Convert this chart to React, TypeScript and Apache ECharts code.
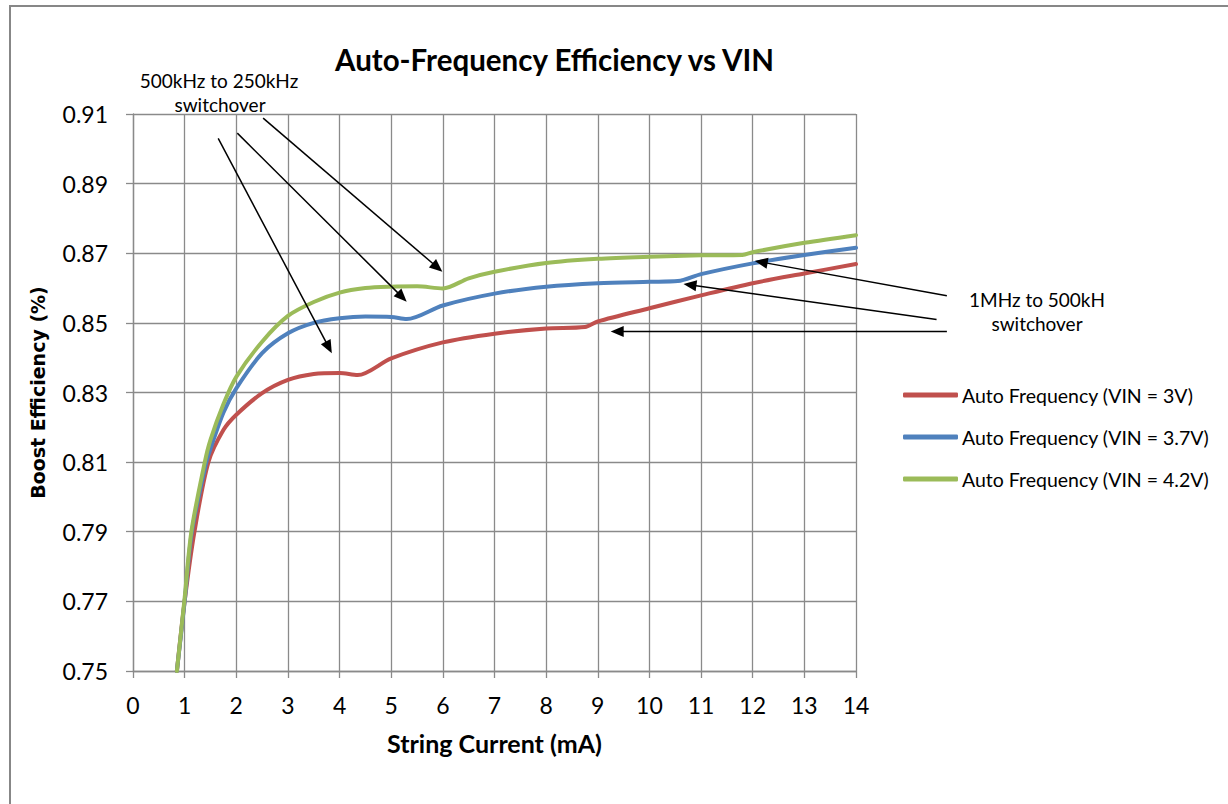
import React, { useEffect, useRef } from "react";
import * as echarts from "echarts";

const TITLE = "Auto-Frequency Efficiency vs VIN";
const X_NAME = "String Current (mA)";
const Y_NAME = "Boost Efficiency (%)";
const SERIES_NAMES = [
  "Auto Frequency (VIN = 3V)",
  "Auto Frequency (VIN = 3.7V)",
  "Auto Frequency (VIN = 4.2V)",
];
const COLORS = ["#C0504D", "#4F81BD", "#9BBB59"];

// [string current (mA), efficiency]
const vin3V: [number, number][] = [
  [0.85, 0.75], [1.0, 0.770], [1.19, 0.790], [1.46, 0.810],
  [1.75, 0.8192], [2.0, 0.8236], [2.5, 0.8298], [3.0, 0.8336], [3.5, 0.8353],
  [4.0, 0.8356], [4.35, 0.835], [5.0, 0.8398], [6.0, 0.8444], [7.0, 0.8469],
  [8.0, 0.8484], [8.75, 0.8488], [9.0, 0.8504], [10.0, 0.8542], [11.0, 0.8579],
  [12.0, 0.8614], [13.0, 0.8642], [14.0, 0.8669],
];
const vin37V: [number, number][] = [
  [0.85, 0.75], [1.0, 0.770], [1.14, 0.790], [1.42, 0.810], [1.5, 0.8138],
  [1.75, 0.8242], [2.0, 0.8312], [2.5, 0.8413], [3.0, 0.847], [3.5, 0.85],
  [4.0, 0.8513], [4.5, 0.8518], [5.0, 0.8517], [5.3, 0.8511], [6.0, 0.855],
  [7.0, 0.8584], [8.0, 0.8604], [9.0, 0.8614], [10.0, 0.8618], [10.55, 0.862],
  [11.0, 0.864], [12.0, 0.8671], [13.0, 0.8695], [14.0, 0.8716],
];
const vin42V: [number, number][] = [
  [0.85, 0.75], [1.0, 0.771], [1.13, 0.790], [1.39, 0.810], [1.5, 0.8164],
  [1.75, 0.8266], [2.0, 0.8345], [2.5, 0.8446], [3.0, 0.852], [3.5, 0.856],
  [4.0, 0.8587], [4.5, 0.86], [5.0, 0.8604], [5.5, 0.8605], [6.0, 0.8599],
  [6.5, 0.8628], [7.0, 0.8647], [8.0, 0.8672], [9.0, 0.8684], [10.0, 0.869],
  [11.0, 0.8694], [11.8, 0.8695], [12.0, 0.8703], [13.0, 0.873], [14.0, 0.8752],
];

const Y_MIN = 0.75;
const Y_MAX = 0.91;
const Y_STEP = 0.02;
const X_MIN = 0;
const X_MAX = 14;
const X_STEP = 1;

const NOTE_LOW = ["500kHz to 250kHz", "switchover"];
const NOTE_HIGH = ["1MHz to 500kH", "switchover"];

// annotation arrows in data units: [from, to]
const arrowsLow: [number, number][][] = [
  [[1.65, 0.903], [3.85, 0.8413]],
  [[2.02, 0.9045], [5.3, 0.8561]],
  [[2.52, 0.9088], [5.99, 0.8647]],
];
const arrowsHigh: [number, number][][] = [
  [[15.76, 0.8578], [12.04, 0.8678]],
  [[15.56, 0.851], [10.66, 0.8612]],
  [[15.76, 0.8475], [9.25, 0.8475]],
];

const FONT = "Lato, 'Open Sans', sans-serif";
const Y_NAME_FONT = "'DejaVu Sans', Verdana, sans-serif";
const GRID_COLOR = "#8a8a8a";

function arrowEls(p0: number[], p1: number[]) {
  const dx = p1[0] - p0[0];
  const dy = p1[1] - p0[1];
  const len = Math.hypot(dx, dy);
  const ux = dx / len;
  const uy = dy / len;
  const L = 13;
  const W = 5.5;
  const bx = p1[0] - ux * L;
  const by = p1[1] - uy * L;
  return [
    {
      type: "line",
      z: 100,
      shape: { x1: p0[0], y1: p0[1], x2: bx + ux * 2, y2: by + uy * 2 },
      style: { stroke: "#000", lineWidth: 1.5 },
    },
    {
      type: "polygon",
      z: 100,
      shape: {
        points: [
          [p1[0], p1[1]],
          [bx - uy * W, by + ux * W],
          [bx + uy * W, by - ux * W],
        ],
      },
      style: { fill: "#000" },
    },
  ];
}

function noteText(text: string, x: number, y: number) {
  return {
    type: "text",
    x,
    y,
    z: 100,
    style: {
      text,
      fontFamily: FONT,
      fontSize: 19,
      fill: "#000",
      align: "center",
      verticalAlign: "middle",
    },
  };
}

export default function App() {
  const ref = useRef<HTMLDivElement>(null);
  useEffect(() => {
    if (!ref.current) return;
    const chart = echarts.init(ref.current, null, { renderer: "svg" });
    const datasets = [vin3V, vin37V, vin42V];
    chart.setOption({
      animation: false,
      backgroundColor: "#fff",
      title: {
        text: TITLE,
        left: 335,
        top: 44,
        padding: 0,
        textStyle: { fontFamily: FONT, fontSize: 29.5, fontWeight: "bold", color: "#000" },
      },
      grid: { left: 133, right: 372, top: 114, bottom: 133, containLabel: false },
      legend: {
        orient: "vertical",
        left: 903,
        top: 385,
        padding: 0,
        itemWidth: 55,
        itemHeight: 5,
        itemGap: 22,
        icon: "roundRect",
        data: SERIES_NAMES,
        textStyle: { fontFamily: FONT, fontSize: 19.5, color: "#000", padding: [0, 0, 0, -1] },
      },
      xAxis: {
        type: "value",
        min: X_MIN,
        max: X_MAX,
        interval: X_STEP,
        name: X_NAME,
        nameLocation: "middle",
        nameGap: 59,
        nameTextStyle: { fontFamily: FONT, fontSize: 25, fontWeight: "bold", color: "#000" },
        axisLine: { show: true, lineStyle: { color: GRID_COLOR, width: 1.3 } },
        axisTick: { show: true, length: 7, lineStyle: { color: GRID_COLOR, width: 1.3 } },
        axisLabel: { margin: 22, fontFamily: FONT, fontSize: 23, color: "#000" },
        splitLine: { show: true, lineStyle: { color: GRID_COLOR, width: 1.3 } },
      },
      yAxis: {
        type: "value",
        min: Y_MIN,
        max: Y_MAX,
        interval: Y_STEP,
        name: Y_NAME,
        nameLocation: "middle",
        nameGap: 86,
        nameTextStyle: { fontFamily: Y_NAME_FONT, fontSize: 19, fontWeight: "bold", color: "#000" },
        axisLine: { show: true, lineStyle: { color: GRID_COLOR, width: 1.3 } },
        axisTick: { show: true, length: 7, lineStyle: { color: GRID_COLOR, width: 1.3 } },
        axisLabel: {
          margin: 25,
          fontFamily: FONT,
          fontSize: 23,
          color: "#000",
          formatter: (v: number) => v.toFixed(2),
        },
        splitLine: { show: true, lineStyle: { color: GRID_COLOR, width: 1.3 } },
      },
      series: datasets.map((d, i) => ({
        name: SERIES_NAMES[i],
        type: "line",
        data: d,
        showSymbol: false,
        symbol: "none",
        smooth: 0.3,
        color: COLORS[i],
        lineStyle: { width: 4, color: COLORS[i], cap: "round", join: "round" },
        z: 3 + i,
      })),
    });

    const toPx = (p: number[]) => chart.convertToPixel({ gridIndex: 0 }, p) as number[];
    const graphics: any[] = [
      {
        type: "rect",
        shape: { x: 10, y: 6, width: 1400, height: 1000 },
        style: { fill: "none", stroke: "#878787", lineWidth: 2 },
        z: 0,
        silent: true,
      },
      noteText(NOTE_LOW[0], 219, 80),
      noteText(NOTE_LOW[1], 220, 104),
      noteText(NOTE_HIGH[0], 1037, 299),
      noteText(NOTE_HIGH[1], 1037, 323),
    ];
    [...arrowsLow, ...arrowsHigh].forEach(([a, b]) => {
      graphics.push(...arrowEls(toPx(a), toPx(b)));
    });
    chart.setOption({ graphic: graphics });

    return () => chart.dispose();
  }, []);
  return (
    <div
      ref={ref}
      style={{ position: "fixed", left: 0, top: 0, width: 1228, height: 804, background: "#fff" }}
    />
  );
}
